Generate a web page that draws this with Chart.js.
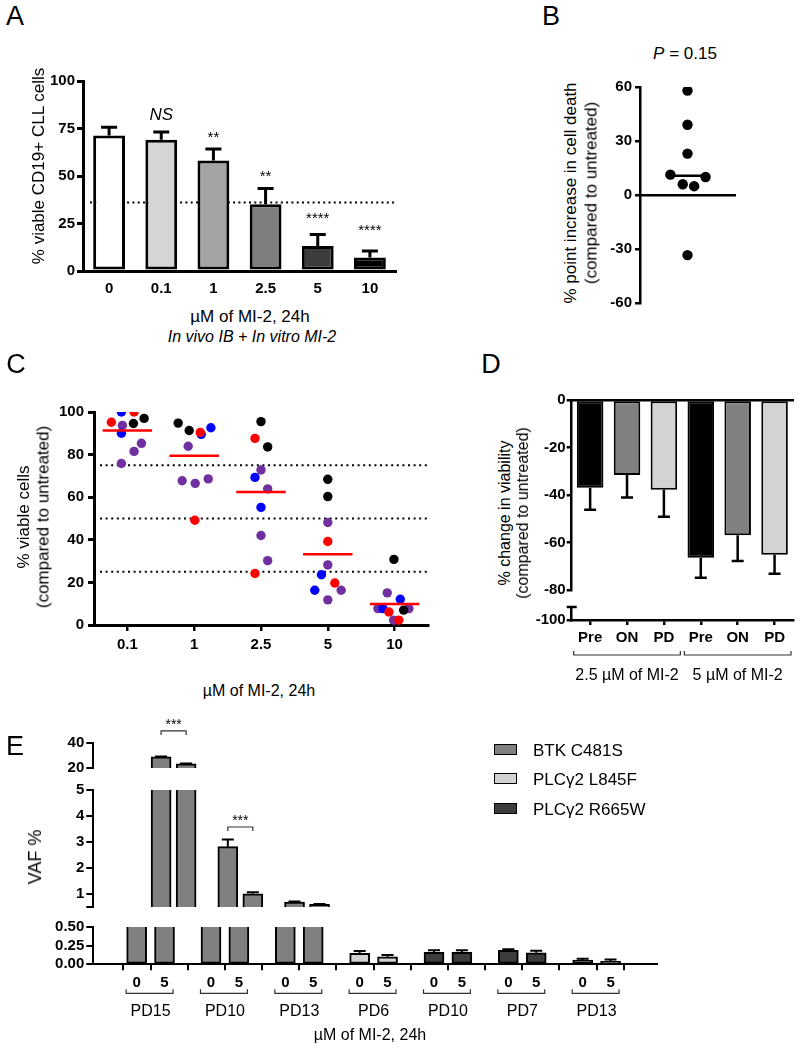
<!DOCTYPE html>
<html><head><meta charset="utf-8">
<script src="https://cdn.jsdelivr.net/npm/chart.js@4.4.1/dist/chart.umd.min.js"></script>
<style>
html,body{margin:0;padding:0;background:#fff;}
body{width:800px;height:1049px;position:relative;overflow:hidden;font-family:"Liberation Sans",Arial,Helvetica,sans-serif;color:#000;}
.t{position:absolute;white-space:nowrap;line-height:1;color:#000;}
canvas{position:absolute;}
</style></head><body>
<script>
// ================= DATA =================
// Panel A
const aDoses=['0','0.1','1','2.5','5','10'];
const aViable=[71.3,69.1,58.2,35.1,13.1,7.1];
const aSem=[4.3,4.0,6.0,8.3,6.1,3.4];
const aFill=['#ffffff','#d5d5d5','#a3a3a5','#7e7e7e','#3c3c3c','#000000'];
const aSig=['','NS','**','**','****','****'];
const aSigAt=[0,82,72,51.5,29.5,23];
const aThreshold=36;
// Panel B
const bIncrease=[58,39,23,11.3,10,6,4.9,-33.4];
const bJitter=[0,0,0,-0.18,0.19,-0.05,0.07,0];
// Panel C
const cDoses=['0.1','1','2.5','5','10'];
const cRedDose=[0,0,1,1,2,2,3,3,4,4];
const cRedViable=[100,95.2,90.4,49.2,87.6,24.2,39.2,19.7,6.1,2.3];
const cRedJitter=[1,-2.4,0.9,0.1,-0.9,-0.9,0,1.05,-0.85,0.64];
const cBlueDose=[0,0,1,1,2,2,3,3,4,4];
const cBlueViable=[100,90,89.5,92.6,69.3,55.2,23.6,16.3,12.1,7.7];
const cBlueJitter=[-0.9,-0.9,1.05,2.5,-0.9,0,-0.95,-1.95,0.85,-1.75];
const cBlackDose=[0,0,1,1,2,2,3,3,4,4];
const cBlackViable=[94.6,97,94.8,91.3,95.5,83.6,68.4,60.3,30.8,7.0];
const cBlackJitter=[0.9,2.5,-2.4,-0.75,0,1,0,0,-0.1,1.35];
const cPurpleDose=[0,0,0,0,1,1,1,1,2,2,2,2,3,3,3,3,4,4,4,4];
const cPurpleViable=[93.7,85.3,81.5,75.8,83.9,67.7,66.5,68.6,72.8,63.9,42,30.2,48.1,28.2,16.3,11.8,15.1,7.7,7.7,2.3];
const cPurpleJitter=[-0.75,2.1,1,-0.9,-0.9,-1.8,0.15,2.1,0,1,0,1,0,0,2.0,0,-1.1,-2.5,2.14,-0.15];
const cThresholds=[75,50,25];
// Panel D
const dTimes=['Pre','ON','PD','Pre','ON','PD'];
const dGroups=['2.5 µM of MI-2','5 µM of MI-2'];
const dChange=[-36.9,-31.6,-37.8,-66.4,-56.9,-65.2];
const dSem=[9.3,9.4,11.4,8.4,10.9,8.0];
const dFill=['#000000','#808080','#d3d3d3','#000000','#808080','#d3d3d3'];
// Panel E
const eSeries=['BTK C481S','PLCγ2 L845F','PLCγ2 R665W'];
const eColors=['#808080','#d3d3d3','#3c3c3c'];
const ePatients=['PD15','PD10','PD13','PD6','PD10','PD7','PD13'];
const eMutation=[0,0,0,1,2,2,2];
const eDoses=['0','5'];
const eVaf0=[29,2.82,0.69,0.146,0.16,0.186,0.057];
const eVaf5=[23.4,1.01,0.6,0.101,0.16,0.155,0.04];
const eErr0=[0.4,0.28,0.02,0.031,0.03,0.015,0.018];
const eErr5=[0.3,0.06,0.02,0.023,0.03,0.025,0.026];
const eSigGroups=[0,1];
const eSigText='***';

// ================= HELPERS =================
const FONT='"Liberation Sans", Arial, Helvetica, sans-serif';
Chart.defaults.font.family=FONT;
Chart.defaults.color='#000';
Chart.defaults.animation=false;
Chart.defaults.events=[];
Chart.defaults.plugins.legend.display=false;
Chart.defaults.plugins.tooltip.enabled=false;

function place(l,t,w,h){const c=document.createElement('canvas');c.width=w;c.height=h;c.style.left=l+'px';c.style.top=t+'px';c.style.width=w+'px';c.style.height=h+'px';document.body.appendChild(c);return c;}
function T(s,x,y,css,rot){const d=document.createElement('div');d.className='t';d.innerHTML=s;d.style.left=x+'px';d.style.top=y+'px';if(css)d.style.cssText+=css;d.style.transform='translate(-50%,-50%)'+(rot?' rotate(-90deg)':'');document.body.appendChild(d);return d;}
function yAx(o){
  const ax={min:o.min,max:o.max,
    ticks:{font:{size:o.fs||15,weight:'bold'},color:'#000',padding:o.pad??2,autoSkip:false},
    grid:{drawOnChartArea:false,color:'#000',lineWidth:o.lw,tickLength:o.tl},
    border:{color:'#000',width:o.lw},
    afterFit:s=>{s.width=o.w;}};
  if(o.step)ax.ticks.stepSize=o.step;
  if(o.cb)ax.ticks.callback=o.cb;
  if(o.vals)ax.afterBuildTicks=s=>{s.ticks=o.vals.map(v=>({value:v}));};
  return ax;
}
const base={responsive:false,maintainAspectRatio:false,animation:false,events:[]};

// ================= PANEL A =================
new Chart(place(40,70,360,231),{
  type:'bar',
  data:{labels:aDoses,datasets:[{data:aViable,backgroundColor:aFill,borderColor:'#000',borderWidth:3,borderSkipped:false,barPercentage:0.61,categoryPercentage:1}]},
  options:Object.assign({},base,{
    layout:{autoPadding:false,padding:{top:8,right:4,bottom:0,left:0}},
    scales:{
      x:{grid:{display:false,drawTicks:false},border:{color:'#000',width:3},ticks:{font:{size:15,weight:'bold'},color:'#000',padding:9},afterFit:s=>{s.height=30;}},
      y:yAx({min:0,max:100,step:25,lw:3,tl:6,w:43,pad:2})
    }}),
  plugins:[{id:'aExtras',
    beforeDatasetsDraw(ch){const {ctx,chartArea:a,scales:{y}}=ch;const py=y.getPixelForValue(aThreshold);
      ctx.save();ctx.setLineDash([2,3.3]);ctx.lineWidth=2;ctx.strokeStyle='#000';ctx.beginPath();ctx.moveTo(a.left+7,py);ctx.lineTo(a.right,py);ctx.stroke();ctx.restore();},
    afterDatasetsDraw(ch){const {ctx,scales:{y}}=ch;const m=ch.getDatasetMeta(0);
      ctx.save();ctx.strokeStyle='#000';ctx.lineWidth=3;ctx.fillStyle='#000';ctx.textAlign='center';ctx.textBaseline='middle';
      m.data.forEach((b,i)=>{const t=y.getPixelForValue(aViable[i]),e=y.getPixelForValue(aViable[i]+aSem[i]);
        ctx.beginPath();ctx.moveTo(b.x,t);ctx.lineTo(b.x,e);ctx.moveTo(b.x-8,e);ctx.lineTo(b.x+8,e);ctx.stroke();
        if(aSig[i]){const ns=aSig[i]==='NS';ctx.font=(ns?'italic 17px ':'15px ')+FONT;ctx.fillText(aSig[i],b.x,y.getPixelForValue(aSigAt[i])+(ns?0:4));}
      });ctx.restore();}}]
});
T('A',15,16,'font-size:27px');
T('% viable CD19+ CLL cells',38,166,'font-size:17px',true);
T('µM of MI-2, 24h',250,316,'font-size:17px');
T('In vivo IB + In vitro MI-2',252,337,'font-size:16px;font-style:italic');

// ================= PANEL B =================
const bSorted=[...bIncrease].sort((p,q)=>p-q);
const bMedian=(bSorted[3]+bSorted[4])/2;
new Chart(place(597,75,143,240),{
  type:'scatter',
  data:{datasets:[
    {type:'line',data:[{x:-0.19,y:bMedian},{x:0.19,y:bMedian}],borderColor:'#000',borderWidth:2.5,pointRadius:0},
    {data:bIncrease.map((v,i)=>({x:bJitter[i],y:v})),backgroundColor:'#000',borderColor:'#000',pointRadius:5.2,borderWidth:0}
  ]},
  options:Object.assign({},base,{
    layout:{autoPadding:false,padding:{top:10,right:5,bottom:10,left:0}},
    scales:{
      x:{type:'linear',min:-0.5,max:0.5,position:{y:0},ticks:{display:false},grid:{display:false,drawTicks:false},border:{color:'#000',width:2.5}},
      y:yAx({min:-60,max:60,step:30,lw:2.5,tl:5,w:43,pad:3})
    }})
});
T('B',551,16,'font-size:27px');
T('<i>P</i> = 0.15',685,53,'font-size:17px');
T('% point increase in cell death',570,193,'font-size:17px',true);
T('(compared to untreated)',591,193,'font-size:17px',true);

// ================= PANEL C =================
function pts(dose,jit,val){return val.map((v,i)=>({x:dose[i]+jit[i]*0.1,y:v}));}
const cAllDose=[...cRedDose,...cBlueDose,...cBlackDose,...cPurpleDose];
const cAllVal=[...cRedViable,...cBlueViable,...cBlackViable,...cPurpleViable];
const cMeans=cDoses.map((_,k)=>{const v=cAllVal.filter((_,i)=>cAllDose[i]===k);return v.reduce((s,q)=>s+q,0)/v.length;});
const cMeanSets=cMeans.map((m,k)=>({type:'line',data:[{x:k-0.37,y:m},{x:k+0.37,y:m}],borderColor:'#ff0000',borderWidth:2.5,pointRadius:0}));
const dot=(c)=>({backgroundColor:c,borderColor:c,borderWidth:0,pointRadius:4.7});
new Chart(place(50,399,390,261),{
  type:'scatter',
  data:{datasets:[...cMeanSets,
    Object.assign({data:pts(cRedDose,cRedJitter,cRedViable)},dot('#ff0000')),
    Object.assign({data:pts(cBlackDose,cBlackJitter,cBlackViable)},dot('#000000')),
    Object.assign({data:pts(cBlueDose,cBlueJitter,cBlueViable)},dot('#0000ff')),
    Object.assign({data:pts(cPurpleDose,cPurpleJitter,cPurpleViable)},dot('#7030a0'))
  ]},
  options:Object.assign({},base,{
    layout:{autoPadding:false,padding:{top:10,right:12,bottom:0,left:0}},
    scales:{
      x:{type:'linear',min:-0.5,max:4.5,
        afterBuildTicks:s=>{s.ticks=cDoses.map((_,i)=>({value:i}));},
        ticks:{callback:(v,i)=>cDoses[i],font:{size:15,weight:'bold'},color:'#000',padding:5,autoSkip:false,maxRotation:0},
        grid:{drawOnChartArea:false,color:'#000',lineWidth:2.5,tickLength:6},border:{color:'#000',width:3},
        afterFit:s=>{s.height=35;}},
      y:yAx({min:0,max:100,step:20,lw:3,tl:6,w:44,pad:4})
    }}),
  plugins:[{id:'cRef',beforeDatasetsDraw(ch){const {ctx,chartArea:a,scales:{y}}=ch;ctx.save();ctx.setLineDash([2,3.6]);ctx.lineWidth=2;ctx.strokeStyle='#000';
    cThresholds.forEach(v=>{const py=y.getPixelForValue(v);ctx.beginPath();ctx.moveTo(a.left+6,py);ctx.lineTo(a.right+2,py);ctx.stroke();});ctx.restore();}}]
});
T('C',16,364,'font-size:27px');
T('% viable cells',23,517,'font-size:17px',true);
T('(compared to untreated)',43,517,'font-size:17px',true);
T('µM of MI-2, 24h',259,691,'font-size:16px');

// ================= PANEL D =================
const dErrPlugin={id:'dErr',afterDatasetsDraw(ch){const {ctx,scales:{y}}=ch;const m=ch.getDatasetMeta(0);ctx.save();ctx.strokeStyle='#000';ctx.lineWidth=2.5;
  m.data.forEach((b,i)=>{const t=y.getPixelForValue(dChange[i]),e=y.getPixelForValue(dChange[i]-dSem[i]);ctx.beginPath();ctx.moveTo(b.x,t);ctx.lineTo(b.x,e);ctx.moveTo(b.x-6,e);ctx.lineTo(b.x+6,e);ctx.stroke();});ctx.restore();}};
new Chart(place(525,390,275,210),{
  type:'bar',
  data:{labels:dTimes,datasets:[{data:dChange,backgroundColor:dFill,borderColor:'#000',borderWidth:2,borderSkipped:false,barPercentage:0.72,categoryPercentage:1}]},
  options:Object.assign({},base,{
    layout:{autoPadding:false,padding:{top:10,right:7,bottom:9.3,left:0}},
    scales:{
      x:{position:'top',ticks:{display:false},grid:{display:false,drawTicks:false},border:{color:'#000',width:2.5},afterFit:s=>{s.height=0;}},
      y:yAx({min:-80,max:0,step:20,lw:2.5,tl:5,w:46.7,pad:1})
    }}),
  plugins:[dErrPlugin]
});
new Chart(place(530,596,270,94),{
  type:'bar',
  data:{labels:dTimes,datasets:[{data:dTimes.map(()=>null)}]},
  options:Object.assign({},base,{
    layout:{autoPadding:false,padding:{top:11,right:7,bottom:0,left:0}},
    scales:{
      x:{ticks:{font:{size:15,weight:'bold'},color:'#000',padding:4},grid:{drawOnChartArea:false,color:'#000',lineWidth:2.5,tickLength:5,offset:false},border:{color:'#000',width:2.5},afterFit:s=>{s.height=70;}},
      y:yAx({min:-100,max:-94.4,vals:[-100],lw:2.5,tl:5,w:41.7,pad:1})
    }}),
  plugins:[{id:'dGroups',afterDraw(ch){const {ctx,chartArea:a,scales:{x}}=ch;ctx.save();ctx.strokeStyle='#000';ctx.lineWidth=2.5;
    ctx.beginPath();ctx.moveTo(a.left-5,a.top);ctx.lineTo(a.left+5,a.top);ctx.stroke();
    const half=(x.getPixelForValue(1)-x.getPixelForValue(0))/2;
    ctx.lineWidth=1.2;ctx.strokeStyle='#333';ctx.fillStyle='#000';ctx.font='16px '+FONT;ctx.textAlign='center';ctx.textBaseline='middle';
    dGroups.forEach((g,k)=>{const l=x.getPixelForValue(3*k)-half+2,r=x.getPixelForValue(3*k+2)+half-2,yy=a.bottom+35;
      ctx.beginPath();ctx.moveTo(l,yy-4);ctx.lineTo(l,yy);ctx.lineTo(r,yy);ctx.lineTo(r,yy-4);ctx.stroke();
      ctx.fillText(g,(l+r)/2,a.bottom+56);});
    ctx.restore();}}]
});
T('D',491,364,'font-size:27px');
T('% change in viability',505,513,'font-size:16px',true);
T('(compared to untreated)',523,513,'font-size:16px',true);

// ================= PANEL E =================
const ePos=(g,d)=>g*8+d*3;
const eSets=eSeries.map((name,s)=>({label:name,
  data:ePatients.flatMap((p,g)=>eMutation[g]===s?[{x:ePos(g,0),y:eVaf0[g]},{x:ePos(g,1),y:eVaf5[g]}]:[]),
  backgroundColor:eColors[s],borderColor:'#000',borderWidth:2,borderSkipped:false,barThickness:20,grouped:false,clip:0}));
const eErr={id:'eErr',afterDatasetsDraw(ch){const {ctx,chartArea:a,scales:{x,y}}=ch;ctx.save();ctx.beginPath();ctx.rect(a.left,a.top-1,a.right-a.left,a.bottom-a.top+1);ctx.clip();
  ctx.strokeStyle='#000';ctx.lineWidth=2;
  ePatients.forEach((p,g)=>{[[eVaf0[g],eErr0[g]],[eVaf5[g],eErr5[g]]].forEach(([v,e],d)=>{const px=x.getPixelForValue(ePos(g,d)),t=y.getPixelForValue(v),pe=y.getPixelForValue(v+e);
    ctx.beginPath();ctx.moveTo(px,t);ctx.lineTo(px,pe);ctx.moveTo(px-6,pe);ctx.lineTo(px+6,pe);ctx.stroke();});});
  ctx.restore();}};
function eSig(offsets){return {id:'eSig',afterDraw(ch){const {ctx,scales:{x,y}}=ch;ctx.save();ctx.strokeStyle='#333';ctx.lineWidth=1.2;ctx.fillStyle='#000';ctx.font='14px '+FONT;ctx.textAlign='center';ctx.textBaseline='middle';
  eSigGroups.forEach((g,k)=>{const top=Math.max(eVaf0[g]+eErr0[g],eVaf5[g]+eErr5[g]);if(top<y.min||top>y.max)return;
    const yy=y.getPixelForValue(top)-offsets[k],l=x.getPixelForValue(ePos(g,0)),r=x.getPixelForValue(ePos(g,1));
    ctx.beginPath();ctx.moveTo(l,yy+4);ctx.lineTo(l,yy);ctx.lineTo(r,yy);ctx.lineTo(r,yy+4);ctx.stroke();ctx.fillText(eSigText,(l+r)/2,yy-6);});
  ctx.restore();}};}
const eX={type:'linear',min:-2.5,max:53.8,display:false};
const eOpts=(pad,y,xs)=>Object.assign({},base,{layout:{autoPadding:false,padding:pad},scales:{x:xs||eX,y:y}});
// top segment 20-40
new Chart(place(33,705,632,74),{type:'bar',data:{datasets:eSets.map(s=>Object.assign({},s))},
  options:eOpts({top:38.3,right:8.3,bottom:6.7,left:0},yAx({min:20,max:40,vals:[20,40],lw:2,tl:7,w:60.3,pad:2})),
  plugins:[eErr,eSig([25.5,12.4])]});
// middle segment 0.5-5
new Chart(place(33,779,632,139),{type:'bar',data:{datasets:eSets.map(s=>Object.assign({},s))},
  options:eOpts({top:10,right:8.3,bottom:7,left:0},yAx({min:0.5,max:5,vals:[0.5,1,2,3,4,5],cb:v=>v===0.5?'':String(v),lw:2,tl:7,w:60.3,pad:2})),
  plugins:[eErr,eSig([25.5,12.4])]});
// bottom segment 0-0.5
new Chart(place(33,916,632,133),{type:'bar',data:{datasets:eSets.map(s=>Object.assign({},s))},
  options:eOpts({top:10.7,right:8.3,bottom:0,left:0},yAx({min:0,max:0.5,step:0.25,cb:v=>v.toFixed(2),lw:2,tl:7,w:60.3,pad:2}),
    {type:'linear',min:-2.5,max:53.8,
      afterBuildTicks:s=>{s.ticks=ePatients.flatMap((p,g)=>[{value:ePos(g,0)},{value:ePos(g,1)}]);},
      ticks:{callback:(v,i)=>eDoses[i%2],font:{size:15,weight:'bold'},color:'#000',padding:4,autoSkip:false,maxRotation:0},
      grid:{drawOnChartArea:false,color:'#000',lineWidth:2,tickLength:6},border:{color:'#000',width:2},
      afterFit:s=>{s.height=84.7;}}),
  plugins:[eErr,{id:'eGroups',afterDraw(ch){const {ctx,chartArea:a,scales:{x}}=ch;ctx.save();ctx.strokeStyle='#333';ctx.lineWidth=1.2;ctx.fillStyle='#000';ctx.font='16px '+FONT;ctx.textAlign='center';ctx.textBaseline='middle';
    ePatients.forEach((p,g)=>{const l=x.getPixelForValue(ePos(g,0))-10.5,r=x.getPixelForValue(ePos(g,1))+8.5,yy=a.bottom+29;
      ctx.beginPath();ctx.moveTo(l,yy-4);ctx.lineTo(l,yy);ctx.lineTo(r,yy);ctx.lineTo(r,yy-4);ctx.stroke();
      ctx.fillText(p,(x.getPixelForValue(ePos(g,0))+x.getPixelForValue(ePos(g,1)))/2,a.bottom+47.5);});
    ctx.restore();}}]});
T('E',15,746,'font-size:27px');
T('VAF %',35,857,'font-size:18px',true);
T('µM of MI-2, 24h',370,1035,'font-size:16px');
// legend
eSeries.forEach((s,i)=>{const yc=750+29.3*i;
  const b=document.createElement('div');b.style.cssText=`position:absolute;left:494px;top:${yc-6}px;width:21px;height:9px;border:1.5px solid #000;background:${eColors[i]}`;document.body.appendChild(b);
  const t=document.createElement('div');t.className='t';t.textContent=s;t.style.cssText+=`left:533px;top:${yc}px;font-size:17px;transform:translateY(-50%)`;document.body.appendChild(t);
});
</script>
</body></html>
